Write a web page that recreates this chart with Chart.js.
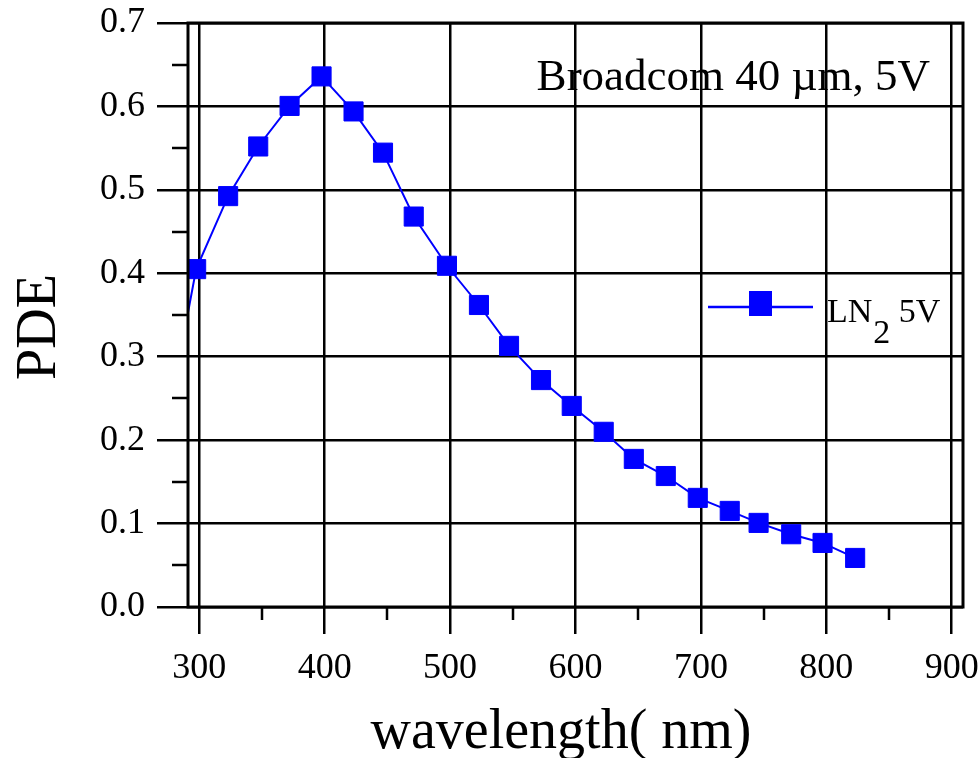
<!DOCTYPE html>
<html><head><meta charset="utf-8">
<script src="https://cdn.jsdelivr.net/npm/chart.js@4/dist/chart.umd.min.js"></script>
<style>html,body{margin:0;padding:0;background:#fff}#wrap{width:980px;height:758px}</style>
</head><body><div id="wrap"><canvas id="c" width="980" height="758"></canvas></div>
<script>
// ---- data ----
const wavelengths = [291, 297.5, 323, 347, 372, 397.5, 423, 446.5, 471, 497.5, 523, 547, 572.5, 597, 622.5, 646.5, 672, 697.5, 723, 746, 772, 797, 823];
const pdeValues  = [0.353, 0.405, 0.4925, 0.552, 0.6006, 0.636, 0.594, 0.5446, 0.468, 0.409, 0.362, 0.313, 0.272, 0.241, 0.21, 0.1775, 0.157, 0.1308, 0.1152, 0.1008, 0.0872, 0.0768, 0.0588];
const markerShown = [false, true, true, true, true, true, true, true, true, true, true, true, true, true, true, true, true, true, true, true, true, true, true];
const xTicks = [300, 400, 500, 600, 700, 800, 900];
const xMinorTicks = [350, 450, 550, 650, 750, 850];
const yTicks = [0, 0.1, 0.2, 0.3, 0.4, 0.5, 0.6, 0.7];
const yMinorTicks = [0.05, 0.15, 0.25, 0.35, 0.45, 0.55, 0.65];
const xRange = [291, 909];
const yRange = [0, 0.7];
const seriesLabel = ['LN', '2', ' 5V'];
const annotationText = 'Broadcom 40 \u00b5m, 5V';
const xTitle = 'wavelength( nm)';
const yTitle = 'PDE';

const SERIF = '"Liberation Serif", "Times New Roman", serif';
const BLUE = '#0000ff';

const extras = {
  id: 'extras',
  afterDraw(chart) {
    const ctx = chart.ctx, ca = chart.chartArea;
    const xs = chart.scales.x, ys = chart.scales.y;
    ctx.save();
    ctx.strokeStyle = '#000';
    ctx.lineWidth = 2.5;
    ctx.beginPath();
    xMinorTicks.forEach(v => {
      const px = Math.round(xs.getPixelForValue(v));
      ctx.moveTo(px, ca.bottom); ctx.lineTo(px, ca.bottom + 13);
    });
    yMinorTicks.forEach(v => {
      const py = Math.round(ys.getPixelForValue(v));
      ctx.moveTo(ca.left - 16, py); ctx.lineTo(ca.left, py);
    });
    ctx.stroke();
    // frame
    ctx.lineWidth = 3;
    ctx.strokeRect(ca.left, ca.top, ca.right - ca.left, ca.bottom - ca.top);

    ctx.fillStyle = '#000';
    // annotation
    ctx.font = '45px ' + SERIF;
    ctx.textAlign = 'right';
    ctx.textBaseline = 'alphabetic';
    ctx.fillText(annotationText, ca.right - 33, ca.top + 67);

    // legend
    const ly = ca.top + 284;
    ctx.strokeStyle = BLUE;
    ctx.lineWidth = 2.5;
    ctx.beginPath();
    ctx.moveTo(ca.right - 255, ly); ctx.lineTo(ca.right - 150, ly);
    ctx.stroke();
    ctx.fillStyle = BLUE;
    ctx.fillRect(ca.right - 214, ly - 16, 23, 25);
    ctx.fillStyle = '#000';
    ctx.font = '34px ' + SERIF;
    ctx.textAlign = 'left';
    let tx = ca.right - 136;
    ctx.fillText(seriesLabel[0], tx, ly + 15);
    tx += ctx.measureText(seriesLabel[0]).width + 1;
    ctx.fillText(seriesLabel[1], tx, ly + 36);
    tx += ctx.measureText(seriesLabel[1]).width;
    ctx.fillText(seriesLabel[2], tx, ly + 15);

    // axis titles
    ctx.font = '56px ' + SERIF;
    ctx.textAlign = 'center';
    ctx.fillText(xTitle, 561, 748);
    ctx.save();
    ctx.translate(55, 327);
    ctx.rotate(-Math.PI / 2);
    ctx.fillText(yTitle, 0, 0);
    ctx.restore();
    ctx.restore();
  }
};

new Chart(document.getElementById('c'), {
  type: 'line',
  data: {
    datasets: [{
      data: wavelengths.map((w, i) => ({ x: w, y: pdeValues[i] })),
      borderColor: BLUE,
      backgroundColor: BLUE,
      borderWidth: 2,
      pointStyle: 'rect',
      pointRadius: markerShown.map(s => s ? 13.5 : 0),
      pointBorderWidth: 1,
      pointBorderColor: BLUE,
      pointBackgroundColor: BLUE,
      tension: 0,
      clip: 0
    }]
  },
  options: {
    responsive: false,
    animation: false,
    devicePixelRatio: 1,
    layout: { padding: { top: 23, right: 17, left: 0, bottom: 0 } },
    plugins: { legend: { display: false }, tooltip: { enabled: false } },
    scales: {
      x: {
        type: 'linear', min: xRange[0], max: xRange[1],
        afterBuildTicks: s => { s.ticks = xTicks.map(v => ({ value: v })); },
        afterFit: s => { s.height = 151; s.paddingLeft = 0; s.paddingRight = 0; },
        grid: { color: '#000', lineWidth: 2.5, tickLength: 27 },
        border: { display: false },
        ticks: { font: { family: SERIF, size: 36 }, color: '#000', padding: 13, maxRotation: 0, autoSkip: false }
      },
      y: {
        type: 'linear', min: yRange[0], max: yRange[1],
        afterBuildTicks: s => { s.ticks = yTicks.map(v => ({ value: v })); },
        afterFit: s => { s.width = 188; s.paddingTop = 0; s.paddingBottom = 0; },
        grid: { color: '#000', lineWidth: 2.5, tickLength: 31 },
        border: { display: false },
        ticks: { font: { family: SERIF, size: 36 }, color: '#000', padding: 12, autoSkip: false,
                 callback: v => Number(v).toFixed(1) }
      }
    }
  },
  plugins: [extras]
});
</script>
</body></html>
